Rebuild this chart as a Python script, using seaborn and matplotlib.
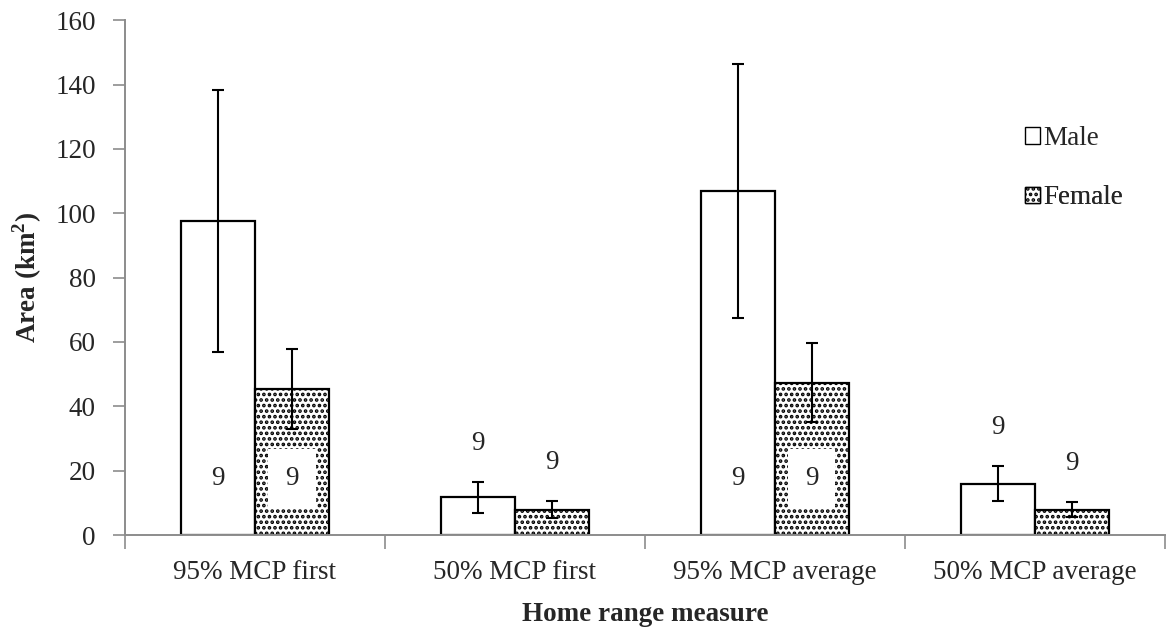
import pandas as pd
import numpy as np
import matplotlib
matplotlib.use("Agg")
import matplotlib.pyplot as plt
import seaborn as sns
from matplotlib.patches import Patch

# --------------------------
# DATA
# --------------------------
measures = ["95% MCP first", "50% MCP first", "95% MCP average", "50% MCP average"]
male_mean = [97.6, 11.7, 107.0, 16.0]
male_err = [40.8, 4.8, 39.4, 5.3]
female_mean = [45.3, 7.9, 47.4, 7.9]
female_err = [12.4, 2.6, 12.3, 2.3]
male_n = [9, 9, 9, 9]
female_n = [9, 9, 9, 9]

df = pd.DataFrame({
    "measure": measures * 2,
    "sex": ["Male"] * 4 + ["Female"] * 4,
    "area": male_mean + female_mean,
})

# --------------------------
# STYLE
# --------------------------
sns.set_style("white")
plt.rcParams["font.family"] = ["Liberation Serif", "DejaVu Serif"]
plt.rcParams["hatch.linewidth"] = 1.8
plt.rcParams["hatch.color"] = "#555555"
axis_grey = "#8c8c8c"
fs = 19.5
dots = "..."

fig = plt.figure(figsize=(11.66, 6.36), dpi=100)
ax = fig.add_axes([0.1072, 0.1588, 0.8918, 0.8093])

sns.barplot(data=df, x="measure", y="area", hue="sex", order=measures,
            hue_order=["Male", "Female"], palette=["white", "white"],
            edgecolor="black", linewidth=1.6, width=0.57, errorbar=None,
            legend=False, ax=ax)

male_bars, female_bars = ax.containers[0], ax.containers[1]
for p in female_bars:
    p.set_hatch(dots)

# error bars + n labels
for bars, means, errs, ns in [(male_bars, male_mean, male_err, male_n),
                              (female_bars, female_mean, female_err, female_n)]:
    xs = [p.get_x() + p.get_width() / 2 for p in bars]
    ax.errorbar(xs, means, yerr=errs, fmt="none", ecolor="black",
                elinewidth=1.5, capsize=4.5, capthick=1.5, zorder=5)
    for x, m, e, n in zip(xs, means, errs, ns):
        if m > 30:
            ax.text(x, 17.5, str(n), ha="center", va="center", fontsize=fs,
                    bbox=dict(facecolor="white", edgecolor="none", pad=12),
                    zorder=4)
        else:
            ax.text(x, m + e + 12, str(n), ha="center", va="center",
                    fontsize=fs, zorder=4)

ax.set_ylim(0, 160)
ax.set_xlim(-0.5, 3.5)
ax.set_yticks(np.arange(0, 161, 20))
ax.set_ylabel("Area (km$^\\mathregular{2}$)", fontsize=fs, fontweight="bold",
              labelpad=8)
ax.set_xlabel("Home range measure", fontsize=fs, fontweight="bold",
              labelpad=12)

ax.tick_params(axis="y", which="major", length=9, width=1.2, color=axis_grey,
               labelsize=fs, direction="out", left=True, pad=12)
ax.tick_params(axis="x", which="major", length=0, labelsize=fs, pad=18)
ax.set_xticks(np.arange(-0.5, 3.6, 1), minor=True)
ax.tick_params(axis="x", which="minor", length=10, width=1.2,
               color=axis_grey, direction="out", bottom=True)

for side in ["top", "right"]:
    ax.spines[side].set_visible(False)
for side in ["left", "bottom"]:
    ax.spines[side].set_color(axis_grey)
    ax.spines[side].set_linewidth(1.4)

# legend: one row per legend so the row spacing can follow the reference
handles = [Patch(facecolor="white", edgecolor="black", linewidth=1.0),
           Patch(facecolor="white", edgecolor="black", linewidth=1.0,
                 hatch=dots)]
labels = ["Male", "Female"]
legend_y = [0.770, 0.655]
for h, lab, y in zip(handles, labels, legend_y):
    leg = ax.legend([h], [lab], loc="center left", bbox_to_anchor=(0.866, y),
                    frameon=False, fontsize=fs, handlelength=0.55,
                    handleheight=0.55, handletextpad=0.1, borderaxespad=0,
                    borderpad=0)
    ax.add_artist(leg)

fig.savefig("out.png", dpi=100)
